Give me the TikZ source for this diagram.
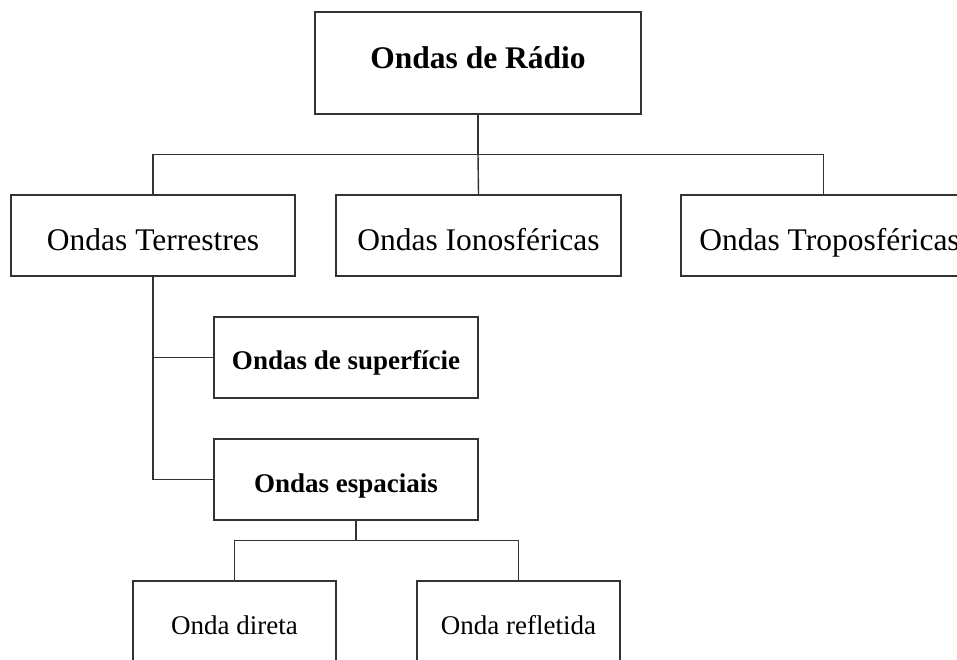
\documentclass[tikz,border=0pt]{standalone}
\usepackage{fontspec}
\setmainfont{Liberation Serif}
\begin{document}
\begin{tikzpicture}[x=1pt,y=-1pt,
  box/.style={draw=black!80, line width=1.4pt, rectangle, inner sep=0pt, minimum height=81pt},
  big/.style={font=\fontsize{31.5pt}{36pt}\selectfont},
  bigb/.style={font=\fontsize{31.5pt}{36pt}\selectfont\bfseries},
  small/.style={font=\fontsize{27pt}{31pt}\selectfont},
  smallb/.style={font=\fontsize{27pt}{31pt}\selectfont\bfseries},
  conn/.style={draw=black!80, line width=1.4pt}]
\useasboundingbox (0,0) rectangle (957,660);
\clip (0,0) rectangle (957,660);
\fill[white] (0,0) rectangle (957,660);
\node[box, bigb, minimum width=326pt, minimum height=102pt, text height=20pt, text depth=8pt] (root) at (478,63) {Ondas de Rádio};
\node[box, big, minimum width=284pt, text height=29pt, text depth=0pt] (ter) at (153,235.5) {Ondas Terrestres};
\node[box, big, minimum width=285pt, text height=29pt, text depth=0pt] (ion) at (478.5,235.5) {Ondas Ionosféricas};
\node[box, big, minimum width=285pt, text height=29pt, text depth=0pt] (tro) at (823.5,235.5) {\hspace*{12pt}Ondas Troposféricas};
\node[box, smallb, minimum width=264pt, text height=23pt, text depth=0pt] (sup) at (346,357.5) {Ondas de superfície};
\node[box, smallb, minimum width=264pt, text height=25pt, text depth=0pt] (esp) at (346,479.5) {Ondas espaciais};
\node[box, small, minimum width=203pt, text height=25pt, text depth=0pt] (dir) at (234.5,621.5) {Onda direta};
\node[box, small, minimum width=203pt, text height=25pt, text depth=0pt] (ref) at (518.5,621.5) {Onda refletida};
\draw[conn] (root.south) -- ++(0,40) coordinate (j1);
\draw[conn] (ter.north) |- (j1) -| (tro.north);
\draw[conn] (j1) -- (ion.north);
\draw[conn] (ter.south) |- (esp.west);
\draw[conn] (ter.south |- sup.west) -- (sup.west);
\draw[conn] ([xshift=10pt]esp.south) -- ++(0,20) coordinate (j2);
\draw[conn] (dir.north) |- (j2) -| (ref.north);
\end{tikzpicture}
\end{document}
